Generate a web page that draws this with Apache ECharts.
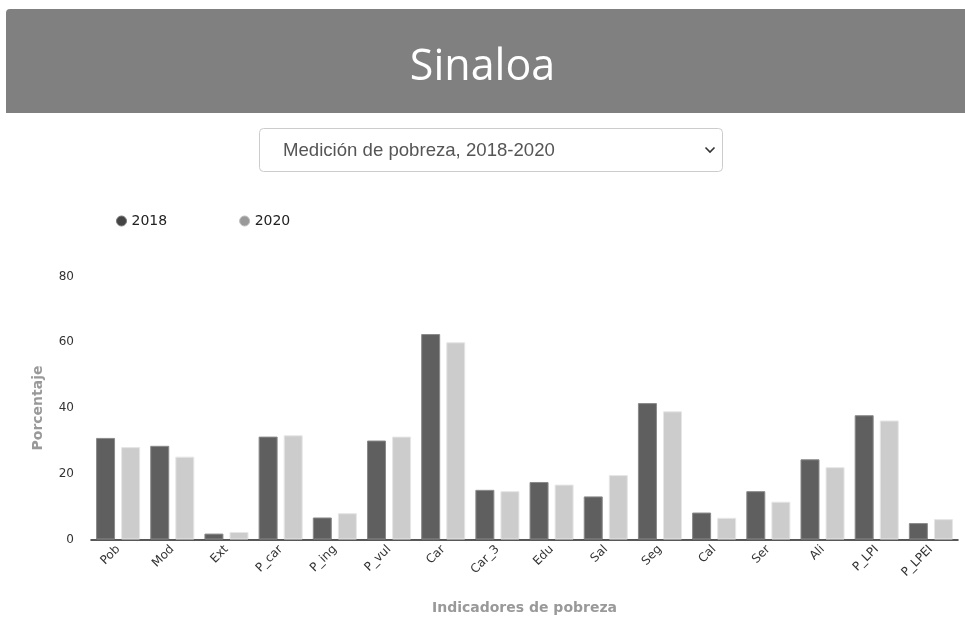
<!DOCTYPE html>
<html>
<head>
<meta charset="utf-8">
<script src="https://cdn.jsdelivr.net/npm/echarts@6/dist/echarts.min.js"></script>
<style>
html,body{margin:0;padding:0;background:#fff;}
#chart{width:965px;height:623px;}
</style>
</head>
<body>
<div id="chart"></div>
<script>
const categories = ['Pob','Mod','Ext','P_car','P_ing','P_vul','Car','Car_3','Edu','Sal','Seg','Cal','Ser','Ali','P_LPI','P_LPEI'];
const values2018 = [30.9, 28.5, 1.8, 31.3, 6.7, 30.1, 62.5, 15.1, 17.5, 13.1, 41.5, 8.2, 14.7, 24.4, 37.8, 5.0];
const values2020 = [28.1, 25.2, 2.3, 31.7, 8.0, 31.3, 60.0, 14.7, 16.7, 19.6, 39.0, 6.6, 11.5, 22.0, 36.2, 6.2];
const seriesNames = ['2018', '2020'];
const titleText = 'Sinaloa';
const selectText = 'Medición de pobreza, 2018-2020';
const yAxisName = 'Porcentaje';
const xAxisName = 'Indicadores de pobreza';

const chart = echarts.init(document.getElementById('chart'), null, {renderer: 'canvas'});
const labelFont = 'DejaVu Sans, Verdana, sans-serif';
chart.setOption({
  animation: false,
  backgroundColor: '#fff',
  title: {
    text: titleText,
    left: 'center',
    top: 41,
    textStyle: {color: '#fff', fontSize: 43, fontWeight: 'normal', fontFamily: 'Open Sans, sans-serif'}
  },
  graphic: [
    {type: 'rect', z: -1, shape: {x: 6, y: 9, width: 959, height: 104, r: [4, 0, 0, 0]}, style: {fill: '#808080'}},
    {type: 'rect', shape: {x: 259.5, y: 128.5, width: 463, height: 43, r: 4}, style: {fill: '#fff', stroke: '#cccccc', lineWidth: 1}},
    {type: 'text', style: {x: 283, y: 151, text: selectText, fill: '#555', fontSize: 18.6, fontFamily: 'Liberation Sans, Arial, sans-serif', verticalAlign: 'middle'}},
    {type: 'polyline', shape: {points: [[705.5, 147.5], [710, 152], [714.5, 147.5]]}, style: {stroke: '#333', lineWidth: 1.6, fill: null}}
  ],
  legend: {
    left: 111,
    top: 209,
    icon: 'circle',
    itemWidth: 10,
    itemHeight: 10,
    itemGap: 72,
    textStyle: {color: '#222', fontSize: 14, fontFamily: labelFont},
    data: [
      {name: seriesNames[0], itemStyle: {color: '#444', borderColor: '#777', borderWidth: 1}},
      {name: seriesNames[1], itemStyle: {color: '#999', borderColor: '#bbb', borderWidth: 1}}
    ]
  },
  grid: {left: 91, right: 7, top: 276.5, bottom: 83.5, containLabel: false},
  xAxis: {
    type: 'category',
    data: categories,
    name: xAxisName,
    nameLocation: 'middle',
    nameGap: 62,
    nameTextStyle: {color: '#999', fontSize: 14, fontWeight: 'bold', fontFamily: labelFont},
    axisLine: {lineStyle: {color: '#222', width: 1.5}},
    axisTick: {alignWithLabel: true, length: 6, lineStyle: {color: '#222'}},
    axisLabel: {rotate: 45, margin: 8, color: '#333', fontSize: 12, fontFamily: labelFont, interval: 0}
  },
  yAxis: {
    type: 'value',
    min: 0, max: 80, interval: 20,
    name: yAxisName,
    nameLocation: 'middle',
    nameGap: 46,
    nameTextStyle: {color: '#999', fontSize: 14, fontWeight: 'bold', fontFamily: labelFont},
    axisLine: {show: false},
    axisTick: {show: false},
    splitLine: {show: false},
    axisLabel: {margin: 17, color: '#333', fontSize: 12, fontFamily: labelFont}
  },
  series: [
    {name: seriesNames[0], type: 'bar', data: values2018, barWidth: 19, barGap: '32%',
     itemStyle: {color: '#5f5f5f', borderColor: '#8a8a8a', borderWidth: 1}},
    {name: seriesNames[1], type: 'bar', data: values2020, barWidth: 19,
     itemStyle: {color: '#cccccc', borderColor: '#e6e6e6', borderWidth: 1}}
  ]
});
</script>
</body>
</html>
